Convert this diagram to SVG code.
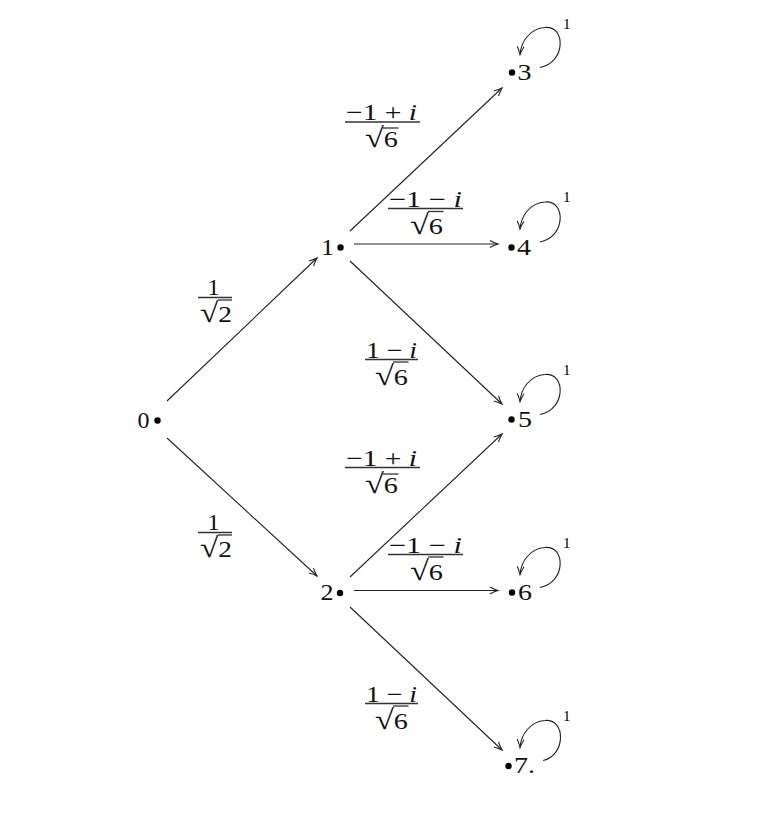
<svg xmlns="http://www.w3.org/2000/svg" width="784" height="838" viewBox="0 0 784 838">
<style>
  text { font-family: "Liberation Serif", "Times New Roman", serif; font-size: 23px; fill: #111; }
  .it { font-style: italic; }
  .rad { font-size: 28px; }
  .lbl1 { font-size: 15px; fill: #000; }
  .edge { fill: none; stroke: #222; stroke-width: 1.1; marker-end: url(#ar); }
  .bar { stroke: #333; stroke-width: 1.3; }
  .dot { fill: #000; }
</style>
<defs>
  <marker id="ar" markerUnits="userSpaceOnUse" markerWidth="20" markerHeight="20" viewBox="-10 -10 20 20" refX="0" refY="0" orient="auto" overflow="visible">
    <path d="M -8 -3.4 Q -3.5 -1 0 0 Q -3.5 1 -8 3.4" fill="none" stroke="#222" stroke-width="1.1"/>
  </marker>
</defs>
<rect width="784" height="838" fill="#fff"/>

<g id="connectors">
  <g id="e01">
    <line class="edge" x1="167" y1="401" x2="317" y2="258"/>
    <text x="207.5" y="295" textLength="12" lengthAdjust="spacingAndGlyphs">1</text>
    <line class="bar" x1="198" y1="297.5" x2="232" y2="297.5"/>
    <text x="200" y="321.5" textLength="32" lengthAdjust="spacingAndGlyphs"><tspan class="rad">√</tspan>2</text>
    <line class="bar" x1="218" y1="300" x2="232" y2="300"/>
  </g>
  <g id="e02">
    <line class="edge" x1="167" y1="438" x2="317" y2="576"/>
    <text x="207.5" y="530" textLength="12" lengthAdjust="spacingAndGlyphs">1</text>
    <line class="bar" x1="198" y1="532.5" x2="232" y2="532.5"/>
    <text x="200" y="556.5" textLength="32" lengthAdjust="spacingAndGlyphs"><tspan class="rad">√</tspan>2</text>
    <line class="bar" x1="218" y1="535" x2="232" y2="535"/>
  </g>
  <g id="e13">
    <line class="edge" x1="350" y1="231" x2="502" y2="88"/>
    <text x="346" y="120" textLength="71" lengthAdjust="spacingAndGlyphs">−1 + <tspan class="it">i</tspan></text>
    <line class="bar" x1="345" y1="122" x2="420" y2="122"/>
    <text x="365" y="147" textLength="33" lengthAdjust="spacingAndGlyphs"><tspan class="rad">√</tspan>6</text>
    <line class="bar" x1="383" y1="128" x2="398.5" y2="128"/>
  </g>
  <g id="e14">
    <line class="edge" x1="354" y1="244" x2="498" y2="244"/>
    <text x="389" y="206.5" textLength="73" lengthAdjust="spacingAndGlyphs">−1 − <tspan class="it">i</tspan></text>
    <line class="bar" x1="388" y1="208.5" x2="463" y2="208.5"/>
    <text x="410" y="234" textLength="33" lengthAdjust="spacingAndGlyphs"><tspan class="rad">√</tspan>6</text>
    <line class="bar" x1="428" y1="211.5" x2="443.5" y2="211.5"/>
  </g>
  <g id="e15">
    <line class="edge" x1="350" y1="261" x2="502" y2="404"/>
    <text x="366" y="357.5" textLength="51" lengthAdjust="spacingAndGlyphs">1 − <tspan class="it">i</tspan></text>
    <line class="bar" x1="365" y1="359.5" x2="418" y2="359.5"/>
    <text x="375" y="385" textLength="33" lengthAdjust="spacingAndGlyphs"><tspan class="rad">√</tspan>6</text>
    <line class="bar" x1="393" y1="362" x2="408.5" y2="362"/>
  </g>
  <g id="e25">
    <line class="edge" x1="350" y1="577" x2="502" y2="434"/>
    <text x="346" y="466" textLength="71" lengthAdjust="spacingAndGlyphs">−1 + <tspan class="it">i</tspan></text>
    <line class="bar" x1="345" y1="467.5" x2="420" y2="467.5"/>
    <text x="365" y="493" textLength="33" lengthAdjust="spacingAndGlyphs"><tspan class="rad">√</tspan>6</text>
    <line class="bar" x1="383" y1="474" x2="398.5" y2="474"/>
  </g>
  <g id="e26">
    <line class="edge" x1="354" y1="590.5" x2="498" y2="590.5"/>
    <text x="389" y="552.5" textLength="73" lengthAdjust="spacingAndGlyphs">−1 − <tspan class="it">i</tspan></text>
    <line class="bar" x1="388" y1="554.5" x2="463" y2="554.5"/>
    <text x="410" y="580" textLength="33" lengthAdjust="spacingAndGlyphs"><tspan class="rad">√</tspan>6</text>
    <line class="bar" x1="428" y1="557" x2="443.5" y2="557"/>
  </g>
  <g id="e27">
    <line class="edge" x1="350" y1="607" x2="502" y2="750"/>
    <text x="366" y="701.5" textLength="51" lengthAdjust="spacingAndGlyphs">1 − <tspan class="it">i</tspan></text>
    <line class="bar" x1="365" y1="703.5" x2="418" y2="703.5"/>
    <text x="375" y="729" textLength="33" lengthAdjust="spacingAndGlyphs"><tspan class="rad">√</tspan>6</text>
    <line class="bar" x1="393" y1="706" x2="408.5" y2="706"/>
  </g>
  <g id="loops">
    <path class="edge" d="M 540 67.5 C 566 62.5, 566 25.5, 545 27.5 C 530 28.5, 521 41.5, 520 54.5"/>
    <text class="lbl1" x="563" y="29">1</text>
    <path class="edge" d="M 540 242 C 566 237, 566 200, 545 202 C 530 203, 521 216, 520 229"/>
    <text class="lbl1" x="563" y="202">1</text>
    <path class="edge" d="M 540 414.5 C 566 409.5, 566 372.5, 545 374.5 C 530 375.5, 521 388.5, 520 401.5"/>
    <text class="lbl1" x="563" y="375">1</text>
    <path class="edge" d="M 540 587.5 C 566 582.5, 566 545.5, 545 547.5 C 530 548.5, 521 561.5, 520 574.5"/>
    <text class="lbl1" x="563" y="548">1</text>
    <path class="edge" d="M 543 760.5 C 566 755.5, 566 718.5, 545 720.5 C 530 721.5, 521 734.5, 520 747.5"/>
    <text class="lbl1" x="563" y="721">1</text>
  </g>
</g>

<g id="n0"><text x="137.5" y="428" textLength="12" lengthAdjust="spacingAndGlyphs">0</text><circle class="dot" cx="157.5" cy="420.5" r="3.2"/></g>
<g id="n1"><text x="321" y="255" textLength="13" lengthAdjust="spacingAndGlyphs">1</text><circle class="dot" cx="340.5" cy="247.5" r="3.2"/></g>
<g id="n2"><text x="320.5" y="600" textLength="13" lengthAdjust="spacingAndGlyphs">2</text><circle class="dot" cx="340" cy="593" r="3.2"/></g>
<g id="n3"><circle class="dot" cx="512" cy="72.5" r="3.2"/><text x="517.5" y="80" textLength="14" lengthAdjust="spacingAndGlyphs">3</text></g>
<g id="n4"><circle class="dot" cx="511.5" cy="247.5" r="3.2"/><text x="517" y="255" textLength="14" lengthAdjust="spacingAndGlyphs">4</text></g>
<g id="n5"><circle class="dot" cx="511.5" cy="419.5" r="3.2"/><text x="518" y="427" textLength="14" lengthAdjust="spacingAndGlyphs">5</text></g>
<g id="n6"><circle class="dot" cx="512" cy="592.5" r="3.2"/><text x="518" y="600" textLength="14" lengthAdjust="spacingAndGlyphs">6</text></g>
<g id="n7"><circle class="dot" cx="508.5" cy="766" r="3.2"/><text x="514" y="773" textLength="21" lengthAdjust="spacingAndGlyphs">7.</text></g>
</svg>
